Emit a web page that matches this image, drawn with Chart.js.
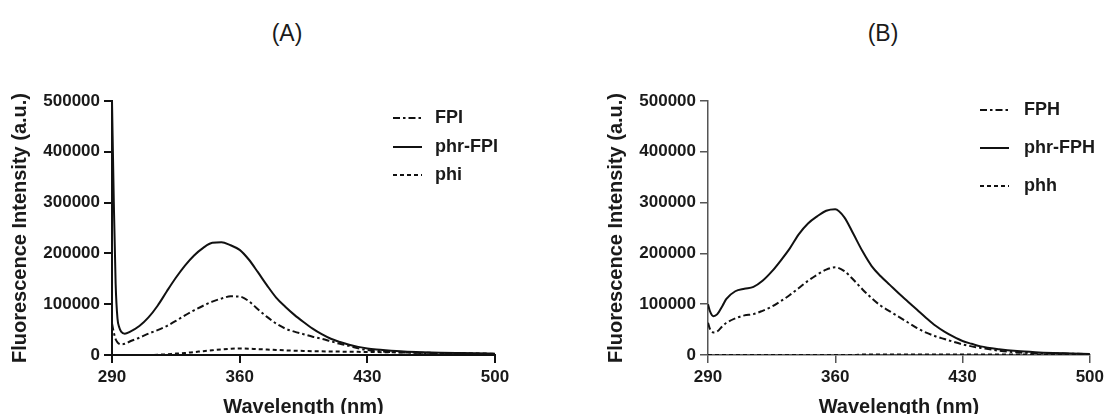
<!DOCTYPE html>
<html>
<head>
<meta charset="utf-8">
<title>Fluorescence spectra</title>
<script src="https://cdn.jsdelivr.net/npm/chart.js@4.4.1/dist/chart.umd.min.js"></script>
<style>
  html, body { margin: 0; padding: 0; background: #fff; overflow: hidden; }
  body { width: 1108px; height: 414px; position: relative; font-family: 'Liberation Sans', Arial, sans-serif; }
  .panel-title { position: absolute; top: 20px; width: 120px; text-align: center; font-size: 23px; line-height: 26px; color: #1a1a1a; }
  canvas { position: absolute; top: 0; }
</style>
</head>
<body>
<div class="panel-title" style="left:227px">(A)</div>
<div class="panel-title" style="left:823px">(B)</div>
<canvas id="chartA" width="554" height="414" style="left:0"></canvas>
<canvas id="chartB" width="512" height="414" style="left:596px"></canvas>
<script>
// ── DADOS ─────────────────────────────────────────────────────────

const xTicks = [290, 360, 430, 500];
const yTicks = [0, 100000, 200000, 300000, 400000, 500000];

// painel A
const wlA    = [290, 291, 292, 293, 294, 295, 297, 300, 305, 310, 315, 320, 325, 330, 335, 340, 345, 350, 355, 360,
                365, 370, 375, 380, 385, 390, 395, 400, 405, 410, 415, 420, 425, 430, 435, 440, 450, 460, 470, 480, 490, 500];
const fpi    = [62000, 44000, 31000, 25000, 22000, 21000, 22000, 27000, 34000, 42000, 49000, 57000, 67000, 78000, 88000, 97000, 105000, 111000, 115500, 115000,
                106000, 90000, 75000, 62000, 52000, 46000, 41000, 36000, 32000, 27000, 22000, 18000, 13000, 10000, 8000, 6500, 5000, 4000, 3300, 2800, 2300, 1800];
const phrFpi = [500000, 300000, 140000, 72000, 54000, 46000, 42000, 46000, 57000, 74000, 97000, 125000, 152000, 176000, 196000, 211000, 221000, 222000, 216000, 207000,
                188000, 163000, 137000, 113000, 95000, 79000, 65000, 52000, 41000, 32000, 25500, 20000, 16000, 13000, 11000, 9500, 7000, 5500, 4500, 3800, 3200, 2700];
const phi    = [0, 0, 0, 0, 0, 0, 0, 0, 0, 0, 400, 1500, 2800, 4000, 5800, 7500, 9300, 11000, 12300, 13000,
                12500, 11500, 10800, 10000, 9200, 8500, 8000, 7500, 7200, 7000, 6700, 6500, 6200, 6000, 5700, 5500, 5000, 4500, 4000, 3500, 3000, 2500];

// painel B
const wlB    = [290, 291, 293, 295, 298, 300, 305, 310, 315, 320, 325, 330, 335, 340, 345, 350, 355, 360, 365, 370,
                375, 380, 385, 390, 395, 400, 405, 410, 415, 420, 425, 430, 435, 440, 450, 460, 470, 480, 490, 500];
const fph    = [63500, 52000, 44500, 46000, 57000, 63000, 72000, 78000, 80500, 87000, 95000, 106000, 118000, 132000, 146000, 158000, 168000, 172500, 165000, 148000,
                129000, 112000, 97000, 86000, 75000, 64000, 53000, 44000, 37000, 31500, 26000, 21000, 17000, 14000, 8500, 5200, 3800, 3000, 2500, 2000];
const phrFph = [100000, 87000, 76500, 80000, 97000, 110000, 125500, 130500, 134000, 146000, 164000, 186000, 210000, 238000, 259000, 273000, 284000, 287000, 271000, 238000,
                204000, 175000, 155000, 138000, 121000, 105000, 89000, 73000, 58000, 46000, 36000, 27500, 22000, 17000, 11500, 7800, 5500, 4000, 3000, 2000];
const phh    = [0, 0, 0, 0, 0, 0, 0, 0, 0, 0, 0, 0, 0, 0, 0, 0, 0, 0, 0, 0,
                1000, 1000, 1000, 1000, 1000, 1000, 1000, 1000, 1000, 1000, 1000, 1000, 1000, 1000, 1000, 1000, 1000, 1000, 1000, 1000];

// ── ESTILOS ───────────────────────────────────────────────────────

const FONT = "'Liberation Sans', Arial, sans-serif";
const INK = '#1a1a1a';
const DASH_DOT = [7, 3, 2.5, 3];
const DOTS = [4, 3];

function pts(xs, ys) {
  return xs.map((x, i) => ({ x, y: ys[i] }));
}

function serie(label, xs, ys, dash) {
  return {
    label,
    data: pts(xs, ys),
    borderColor: '#111',
    borderWidth: 2,
    borderDash: dash,
    pointRadius: 0,
    fill: false,
    cubicInterpolationMode: 'monotone',
  };
}

// legenda desenhada à mão: linha + texto por série
const legendLines = {
  id: 'legendLines',
  afterDraw(chart, args, opts) {
    const ctx = chart.ctx;
    ctx.save();
    ctx.font = `bold 18px ${FONT}`;
    ctx.textBaseline = 'middle';
    ctx.textAlign = 'left';
    ctx.fillStyle = INK;
    chart.data.datasets.forEach((ds, i) => {
      const y = opts.rows[i];
      ctx.beginPath();
      ctx.setLineDash(ds.borderDash || []);
      ctx.lineWidth = ds.borderWidth;
      ctx.strokeStyle = ds.borderColor;
      ctx.moveTo(opts.x, y);
      ctx.lineTo(opts.x + opts.len, y);
      ctx.stroke();
      ctx.setLineDash([]);
      ctx.fillText(ds.label, opts.textX, y);
    });
    ctx.restore();
  }
};

function mkScales(axisColor, axisWidth) {
  const grid = { display: true, drawOnChartArea: false, drawTicks: true, tickLength: 8, color: axisColor, lineWidth: axisWidth };
  const border = { display: true, color: axisColor, width: axisWidth };
  return {
    x: {
      type: 'linear', min: 290, max: 500,
      afterFit: s => { s.height = 59; },
      afterBuildTicks: s => { s.ticks = xTicks.map(v => ({ value: v })); },
      grid, border,
      ticks: { color: INK, font: { family: FONT, size: 17, weight: 'bold' }, padding: 4, maxRotation: 0, autoSkip: false },
      title: { display: true, text: 'Wavelength (nm)', color: INK, font: { family: FONT, size: 20, weight: 'bold' }, padding: { top: 0, bottom: -5 } },
    },
    y: {
      type: 'linear', min: 0, max: 500000,
      afterFit: s => { s.width = 112; },
      afterBuildTicks: s => { s.ticks = yTicks.map(v => ({ value: v })); },
      grid, border,
      ticks: { color: INK, font: { family: FONT, size: 17, weight: 'bold' }, padding: 4, callback: v => String(v) },
      title: { display: true, text: 'Fluorescence Intensity (a.u.)', color: INK, font: { family: FONT, size: 20, weight: 'bold' }, padding: { top: 8, bottom: 0 } },
    },
  };
}

function mkChart(id, datasets, padRight, axisColor, axisWidth, legend) {
  return new Chart(document.getElementById(id), {
    type: 'line',
    data: { datasets },
    options: {
      responsive: false,
      animation: false,
      layout: { padding: { top: 101, right: padRight, bottom: 0, left: 0 } },
      plugins: { legend: { display: false }, tooltip: { enabled: false }, legendLines: legend },
      scales: mkScales(axisColor, axisWidth),
    },
    plugins: [legendLines],
  });
}

// ── GRÁFICOS ──────────────────────────────────────────────────────

mkChart('chartA', [
  serie('FPI', wlA, fpi, DASH_DOT),
  serie('phr-FPI', wlA, phrFpi, []),
  serie('phi', wlA, phi, DOTS),
], 59, '#111', 2, { x: 393, len: 29, textX: 435, rows: [118, 147, 175] });

mkChart('chartB', [
  serie('FPH', wlB, fph, DASH_DOT),
  serie('phr-FPH', wlB, phrFph, []),
  serie('phh', wlB, phh, DOTS),
], 16, '#555', 1.5, { x: 384, len: 29, textX: 428, rows: [110, 148, 186] });
</script>
</body>
</html>
